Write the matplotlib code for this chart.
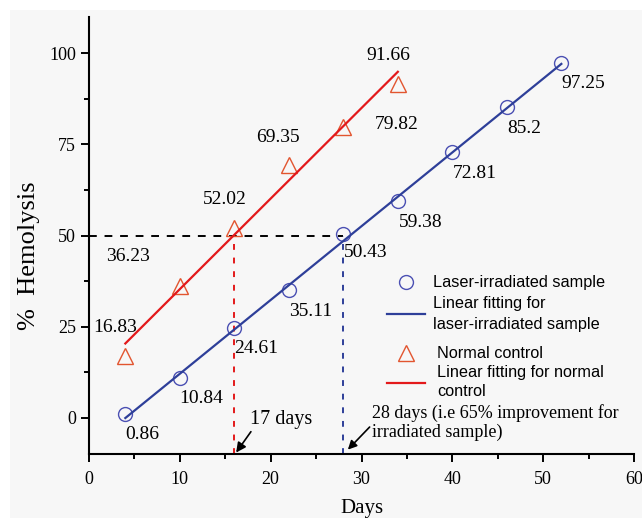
import numpy as np
import matplotlib.pyplot as plt
from matplotlib.patches import Rectangle
from matplotlib.lines import Line2D

plt.rcParams['font.family'] = ['Liberation Serif', 'DejaVu Serif']

# data
days_laser = [4, 10, 16, 22, 28, 34, 40, 46, 52]
hemo_laser = [0.86, 10.84, 24.61, 35.11, 50.43, 59.38, 72.81, 85.2, 97.25]
days_ctrl = [4, 10, 16, 22, 28, 34]
hemo_ctrl = [16.83, 36.23, 52.02, 69.35, 79.82, 91.66]

# label positions (data coords) for the value annotations
lab_laser = [(5.9, -4.7), (12.4, 5.2), (18.4, 18.9), (24.4, 29.0), (30.5, 45.2),
             (36.5, 53.7), (42.5, 67.0), (47.9, 79.4), (54.4, 91.8)]
lab_ctrl = [(2.9, 24.7), (4.3, 44.1), (14.9, 60.0), (20.8, 77.0), (33.9, 80.5), (32.9, 99.5)]

blue_line = '#2e3f99'
blue_mark = '#4b50b3'
red_line = '#e3191b'
red_mark = '#e2552f'

fig = plt.figure(figsize=(6.42, 5.18), dpi=100, facecolor='white')
fig.patches.append(Rectangle((10 / 642, 0), 1, 1 - 10 / 518, transform=fig.transFigure,
                             facecolor='#f7f7f7', edgecolor='none', zorder=-10))
ax = fig.add_axes([89 / 642, 64 / 518, 545 / 642, 437 / 518])
ax.set_facecolor('none')

# linear fits
pl = np.polyfit(days_laser, hemo_laser, 1)
pc = np.polyfit(days_ctrl, hemo_ctrl, 1)
xl = np.array([days_laser[0], days_laser[-1]])
xc = np.array([days_ctrl[0], days_ctrl[-1]])

# reference dashed lines
ax.plot([0, 28], [50, 50], '--', color='black', lw=1.4, dashes=(4, 4))
ax.plot([16, 16], [-10, 50], '--', color=red_line, lw=1.4, dashes=(3, 4))
ax.plot([28, 28], [-10, 50], '--', color=blue_line, lw=1.4, dashes=(3, 4))

ax.plot(days_laser, hemo_laser, 'o', ms=10, mfc='none', mec=blue_mark, mew=1.0)
ax.plot(xl, np.polyval(pl, xl), '-', color=blue_line, lw=1.6)
ax.plot(days_ctrl, hemo_ctrl, '^', ms=11, mfc='none', mec=red_mark, mew=1.0)
ax.plot(xc, np.polyval(pc, xc), '-', color=red_line, lw=1.6)

for v, (tx, ty) in zip(hemo_laser, lab_laser):
    ax.text(tx, ty, f'{v:g}', fontsize=14, ha='center', va='center')
for v, (tx, ty) in zip(hemo_ctrl, lab_ctrl):
    ax.text(tx, ty, f'{v:g}', fontsize=14, ha='center', va='center')

# arrows
ax.annotate('17 days', xy=(16.2, -9.6), xytext=(17.7, -0.5), fontsize=14.5,
            va='center', ha='left',
            arrowprops=dict(arrowstyle='-|>', color='black', lw=1.2,
                            shrinkA=0, shrinkB=0, relpos=(0.05, 0.0)))
ax.annotate('28 days (i.e 65% improvement for\nirradiated sample)', xy=(28.5, -8.8),
            xytext=(31.2, -1.3), fontsize=13, va='center', ha='left', linespacing=1.1,
            arrowprops=dict(arrowstyle='-|>', color='black', lw=1.2,
                            shrinkA=0, shrinkB=0, relpos=(0.0, 0.45)))

# legends (two groups)
leg_font = {'family': 'Liberation Sans', 'size': 11.7}
h1 = [Line2D([], [], ls='none', marker='o', ms=10, mfc='none', mec=blue_mark),
      Line2D([], [], color=blue_line, lw=1.6)]
l1 = ['Laser-irradiated sample', 'Linear fitting for\nlaser-irradiated sample']
h2 = [Line2D([], [], ls='none', marker='^', ms=11, mfc='none', mec=red_mark),
      Line2D([], [], color=red_line, lw=1.6)]
l2 = ['Normal control', 'Linear fitting for normal\ncontrol']
leg1 = ax.legend(h1, l1, loc='upper left', bbox_to_anchor=(0.547, 0.409), frameon=False,
                 prop=leg_font, handlelength=2.35, handletextpad=0.5,
                 labelspacing=0.35, borderaxespad=0, borderpad=0)
for t in leg1.get_texts():
    t.set_linespacing(1.48)
ax.add_artist(leg1)
leg2 = ax.legend(h2, l2, loc='upper left', bbox_to_anchor=(0.547, 0.246), frameon=False,
                 prop=leg_font, handlelength=2.35, handletextpad=0.75,
                 labelspacing=0.23, borderaxespad=0, borderpad=0)
for t in leg2.get_texts():
    t.set_linespacing(1.34)

ax.set_xlim(0, 60)
ax.set_ylim(-10, 110)
ax.set_xticks(np.arange(0, 61, 10))
ax.set_xticks(np.arange(5, 60, 10), minor=True)
ax.set_yticks([0, 25, 50, 75, 100])
ax.set_yticks([12.5, 37.5, 62.5, 87.5], minor=True)
ax.tick_params(which='major', direction='out', length=6, width=1.4, labelsize=13)
ax.tick_params(axis='x', which='major', pad=6)
ax.tick_params(which='minor', direction='out', length=3.5, width=1.4)
for s in ['top', 'right']:
    ax.spines[s].set_visible(False)
for s in ['left', 'bottom']:
    ax.spines[s].set_linewidth(1.5)

ax.set_xlabel('Days', fontsize=15, labelpad=8)
ax.set_ylabel('%  Hemolysis', fontsize=19)
ax.yaxis.set_label_coords(-0.09, 0.453)

plt.savefig('out.png', dpi=100, facecolor=fig.get_facecolor())
